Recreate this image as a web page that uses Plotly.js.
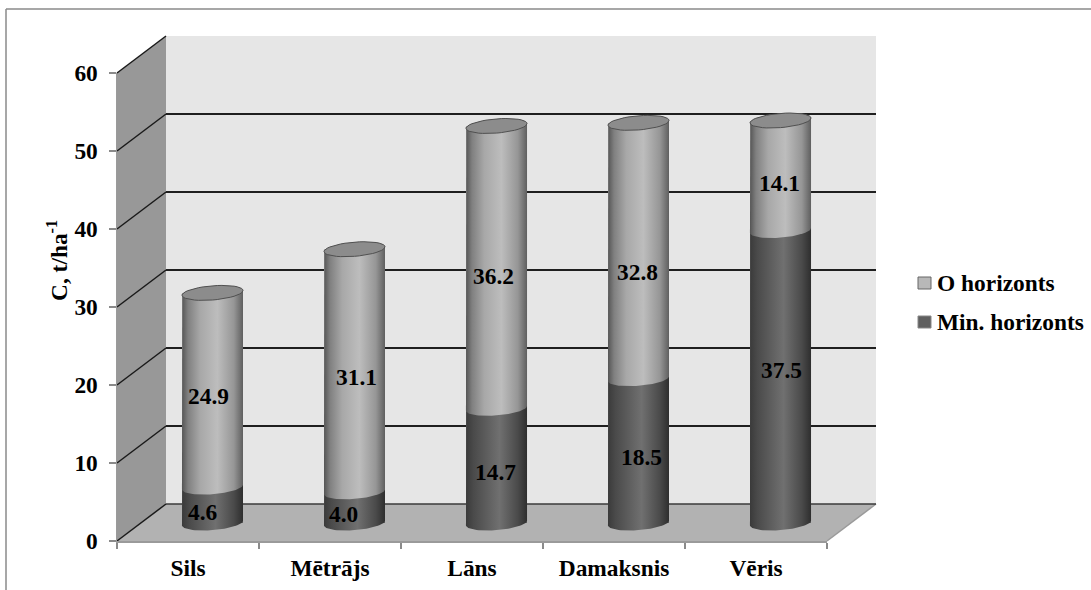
<!DOCTYPE html>
<html>
<head>
<meta charset="utf-8">
<script src="https://cdn.plot.ly/plotly-3.0.1.min.js"></script>
<style>html,body{margin:0;padding:0;background:#fff}#chart{width:1091px;height:590px}</style>
</head>
<body>
<div id="chart"></div>
<script>
// Carbon stock per forest type, stacked by soil horizon (t/ha)
const categories = ['Sils', 'Mētrājs', 'Lāns', 'Damaksnis', 'Vēris'];
const minHorizon = [4.6, 4.0, 14.7, 18.5, 37.5];
const oHorizon = [24.9, 31.1, 36.2, 32.8, 14.1];
const seriesNames = ['O horizonts', 'Min. horizonts'];
const yTicks = [0, 10, 20, 30, 40, 50, 60];

// Page geometry of the pseudo-3D box, in pixels
const W = 1091, H = 590;
const FRONT = {left: 117, right: 827, y0: 541, y60: 73};
const DEPTH = {dx: 49, dy: -37};
const MID = {dx: 24.5, dy: -18};
const px = x => x / W;
const py = y => 1 - y / H;
const perUnit = (FRONT.y0 - FRONT.y60) / 60;
const frontY = v => FRONT.y0 - v * perUnit;

const FONT = 'Liberation Serif, Times New Roman, serif';
const textFont = {family: FONT, size: 23.4, color: '#000', weight: 700};

// Cylinder drawing parameters
const barWidth = 0.43;
const halfW = barWidth / 2;
const tilt = 2.4 / perUnit;
const minorAxis = 7.1 / perUnit;
const ARC = 40;

// Arc of the tilted base ellipse, between two parameter angles
function arc(c, v, t0, t1) {
  const xs = [], ys = [];
  for (let i = 0; i <= ARC; i++) {
    const t = t0 + (t1 - t0) * i / ARC;
    xs.push(c + halfW * Math.cos(t));
    ys.push(v + tilt * Math.cos(t) - minorAxis * Math.sin(t));
  }
  return {xs, ys};
}

// One cylinder section: lower rim, sides, upper rim
function section(i, base, value, scale) {
  const low = arc(i, base, 0, Math.PI);
  const up = arc(i, base + value, Math.PI, 2 * Math.PI);
  return {
    type: 'scatter', xaxis: 'x3', yaxis: 'y3', mode: 'lines', hoverinfo: 'skip',
    showlegend: false, line: {width: 0},
    x: low.xs.concat(up.xs), y: low.ys.concat(up.ys),
    fill: 'toself',
    fillgradient: {type: 'horizontal', start: i - halfW, stop: i + halfW, colorscale: scale}
  };
}

const darkScale = [[0, '#3a3a3a'], [0.12, '#4a4a4a'], [0.55, '#707070'], [0.85, '#4a4a4a'], [1, '#2e2e2e']];
const lightScale = [[0, '#555555'], [0.1, '#808080'], [0.3, '#a8a8a8'], [0.58, '#bdbdbd'], [0.85, '#969696'], [1, '#5f5f5f']];

const xIdx = categories.map((_, i) => i);
const traces = [
  // Invisible anchors so the front and back axes are laid out
  {type: 'scatter', xaxis: 'x', yaxis: 'y', x: [0], y: [0], mode: 'none', hoverinfo: 'skip', showlegend: false},
  {type: 'scatter', xaxis: 'x2', yaxis: 'y2', x: [0], y: [0], mode: 'none', hoverinfo: 'skip', showlegend: false},
  {type: 'bar', xaxis: 'x3', yaxis: 'y3', x: xIdx, y: minHorizon, name: seriesNames[1],
   width: barWidth, marker: {color: '#5f5f5f', line: {width: 0}}, hoverinfo: 'skip', showlegend: false},
  {type: 'bar', xaxis: 'x3', yaxis: 'y3', x: xIdx, y: oHorizon, name: seriesNames[0],
   width: barWidth, marker: {color: '#b0b0b0', line: {width: 0}}, hoverinfo: 'skip', showlegend: false}
];
categories.forEach((_, i) => traces.push(section(i, 0, minHorizon[i], darkScale)));
categories.forEach((_, i) => traces.push(section(i, minHorizon[i], oHorizon[i], lightScale)));
categories.forEach((_, i) => {
  const top = arc(i, minHorizon[i] + oHorizon[i], 0, 2 * Math.PI);
  traces.push({
    type: 'scatter', xaxis: 'x3', yaxis: 'y3', mode: 'lines', hoverinfo: 'skip', showlegend: false,
    x: top.xs, y: top.ys, fill: 'toself', fillcolor: '#8c8c8c', line: {color: '#505050', width: 1}
  });
});

// Walls, floor, wall rulings and frame
const pathOf = pts => pts.map((p, i) => (i ? 'L' : 'M') + px(p[0]) + ',' + py(p[1])).join(' ') + ' Z';
const paperShape = (pts, fill) => ({type: 'path', xref: 'paper', yref: 'paper', layer: 'below',
  path: pathOf(pts), fillcolor: fill, line: {width: 0}});
const seg = (x0, y0, x1, y1, color, width) => ({type: 'line', xref: 'paper', yref: 'paper', layer: 'below',
  x0: px(x0), y0: py(y0), x1: px(x1), y1: py(y1), line: {color, width}});

const backL = FRONT.left + DEPTH.dx, backR = FRONT.right + DEPTH.dx;
const shapes = [
  paperShape([[backL, frontY(60) + DEPTH.dy], [backR, frontY(60) + DEPTH.dy], [backR, frontY(0) + DEPTH.dy], [backL, frontY(0) + DEPTH.dy]], '#e6e6e6'),
  paperShape([[FRONT.left, frontY(60)], [backL, frontY(60) + DEPTH.dy], [backL, frontY(0) + DEPTH.dy], [FRONT.left, frontY(0)]], '#989898'),
  paperShape([[FRONT.left, frontY(0)], [FRONT.right, frontY(0)], [backR, frontY(0) + DEPTH.dy], [backL, frontY(0) + DEPTH.dy]], '#b2b2b2'),
  seg(FRONT.right, frontY(0), backR, frontY(0) + DEPTH.dy, '#9a9a9a', 1.5),
  seg(backL, frontY(0) + DEPTH.dy, backR, frontY(0) + DEPTH.dy, '#3a3a3a', 1.5),
  seg(6, 9, 1091, 9, '#8a8a8a', 1.5),
  seg(6, 9, 6, 590, '#8a8a8a', 1.5)
];
yTicks.forEach(v => shapes.push(seg(FRONT.left, frontY(v), backL, frontY(v) + DEPTH.dy, '#1a1a1a', 1.5)));

// Legend swatches
const legendX = 918, legendRows = [283, 322];
const legendFill = ['#b8b8b8', '#5f5f5f'];
const legendEdge = ['#666666', '#888888'];
legendRows.forEach((y, i) => shapes.push({type: 'rect', xref: 'paper', yref: 'paper',
  x0: px(legendX), x1: px(legendX + 13), y0: py(y + 6), y1: py(y - 6),
  fillcolor: legendFill[i], line: {color: legendEdge[i], width: 1}}));

// Value labels sit where the source chart placed them, offset in pixels from the section centre
const minOffset = [[-10, -7], [-11, -6.6], [-1, -6], [3, -6], [0.5, 7]];
const oOffset = [[-4.5, -6], [1.5, -6.5], [-3.5, -9], [-1.5, -21], [-1, -7.5]];
const annotations = [];
categories.forEach((_, i) => {
  annotations.push({xref: 'x3', yref: 'y3', x: i, y: minHorizon[i] / 2, showarrow: false,
    text: minHorizon[i].toFixed(1), font: textFont, xshift: minOffset[i][0], yshift: minOffset[i][1]});
  annotations.push({xref: 'x3', yref: 'y3', x: i, y: minHorizon[i] + oHorizon[i] / 2, showarrow: false,
    text: oHorizon[i].toFixed(1), font: textFont, xshift: oOffset[i][0], yshift: oOffset[i][1]});
});
seriesNames.forEach((name, i) => annotations.push({xref: 'paper', yref: 'paper', x: px(935), y: py(legendRows[i]),
  xanchor: 'left', yanchor: 'middle', showarrow: false, text: name, font: textFont}));
annotations.push({xref: 'paper', yref: 'paper', x: px(57), y: py(261), xanchor: 'center', yanchor: 'middle',
  textangle: -90, showarrow: false, text: 'C, t/ha<sup>-1</sup>', font: textFont});

const midYRange = [-5, 62];
const midY = v => frontY(v) + MID.dy;
const layout = {
  width: W, height: H, margin: {l: 0, r: 0, t: 0, b: 0},
  paper_bgcolor: '#fff', plot_bgcolor: 'rgba(0,0,0,0)',
  showlegend: false, barmode: 'stack', font: textFont, shapes, annotations,
  // Front plane: carries the visible ticks and labels
  xaxis: {domain: [px(FRONT.left), px(FRONT.right)], anchor: 'y', range: [-0.5, 4.5], tickmode: 'array',
    tickvals: xIdx, ticktext: categories, ticks: '', showgrid: false, showline: true, linecolor: '#9a9a9a', linewidth: 1.5,
    minor: {ticks: 'outside', ticklen: 6, tickwidth: 1.5, tickcolor: '#8a8a8a', tick0: -0.5, dtick: 1, showgrid: false},
    ticklabelstandoff: 5, tickfont: textFont, zeroline: false, fixedrange: true},
  yaxis: {domain: [py(FRONT.y0), py(FRONT.y60)], anchor: 'x', range: [0, 60], tickmode: 'array', tickvals: yTicks,
    ticks: 'outside', ticklen: 7, tickwidth: 1.5, tickcolor: '#8a8a8a', showgrid: false, showline: true,
    linecolor: '#9a9a9a', linewidth: 1.5, ticklabelstandoff: 6, tickfont: textFont, zeroline: false, fixedrange: true},
  // Back wall: gridlines only
  xaxis2: {domain: [px(backL), px(backR)], anchor: 'y2', range: [-0.5, 4.5], visible: false, fixedrange: true},
  yaxis2: {domain: [py(frontY(0) + DEPTH.dy), py(frontY(60) + DEPTH.dy)], anchor: 'x2', range: [0, 60], tickmode: 'array',
    tickvals: yTicks, showticklabels: false, ticks: '', showgrid: true, gridcolor: '#1f1f1f', gridwidth: 1.8,
    showline: false, zeroline: false, fixedrange: true},
  // Mid-depth plane: holds the cylinders
  xaxis3: {domain: [px(FRONT.left + MID.dx), px(FRONT.right + MID.dx)], anchor: 'y3', range: [-0.5, 4.5], visible: false, fixedrange: true},
  yaxis3: {domain: [py(midY(midYRange[0])), py(midY(midYRange[1]))], anchor: 'x3', range: midYRange, visible: false, fixedrange: true}
};

Plotly.newPlot('chart', traces, layout, {staticPlot: true, displayModeBar: false});
</script>
</body>
</html>
